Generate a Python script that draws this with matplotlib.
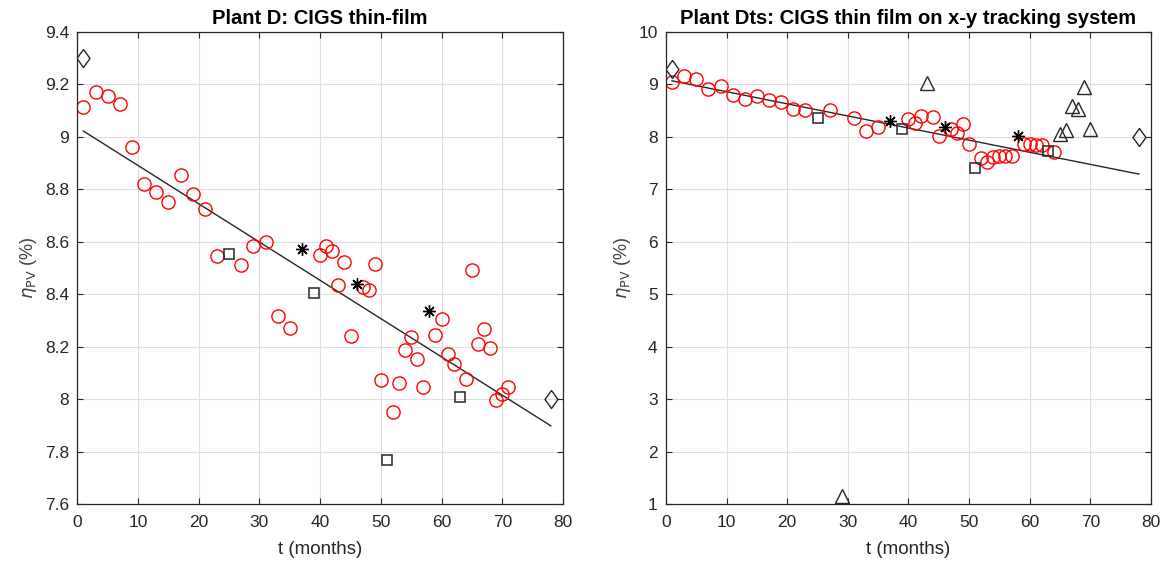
#!/usr/bin/env python3
"""
Degradation of PV efficiency over time: two CIGS plants
"""

import numpy as np
import matplotlib.pyplot as plt
from matplotlib.ticker import MultipleLocator

plt.rcParams['font.family'] = ['Liberation Sans', 'DejaVu Sans']
plt.rcParams['mathtext.fontset'] = 'dejavusans'

# --- Plant D: CIGS thin-film ---
d_circ_t = [1, 3, 5, 7, 9, 11, 13, 15, 17, 19, 21, 23, 27, 29, 31, 33, 35,
            40, 41, 42, 43, 44, 45, 47, 48, 49, 50, 52, 53, 54, 55, 56, 57,
            59, 60, 61, 62, 64, 65, 66, 67, 68, 69, 70, 71]
d_circ_eta = [9.115, 9.17, 9.155, 9.125, 8.96, 8.822, 8.789, 8.75, 8.856, 8.784,
              8.724, 8.547, 8.511, 8.584, 8.60, 8.317, 8.271,
              8.551, 8.583, 8.565, 8.434, 8.523, 8.239, 8.427, 8.416, 8.517,
              8.074, 7.95, 8.061, 8.189, 8.237, 8.153, 8.047,
              8.243, 8.305, 8.173, 8.135, 8.075, 8.491, 8.211, 8.269, 8.195,
              7.995, 8.021, 8.046]
d_star_t = [37, 46, 58]
d_star_eta = [8.573, 8.44, 8.336]
d_sq_t = [25, 39, 51, 63]
d_sq_eta = [8.552, 8.405, 7.769, 8.009]
d_dia_t = [1, 78]
d_dia_eta = [9.30, 8.0]
d_fit = [-0.0146, 9.037]   # slope, intercept

# --- Plant Dts: CIGS thin film on x-y tracking system ---
dts_circ_t = [1, 3, 5, 7, 9, 11, 13, 15, 17, 19, 21, 23, 27, 31, 33, 35,
              40, 41, 42, 44, 45, 47, 48, 49, 50, 52, 53, 54, 55, 56, 57,
              59, 60, 61, 62, 64]
dts_circ_eta = [9.04, 9.17, 9.10, 8.91, 8.98, 8.79, 8.72, 8.78, 8.70, 8.66,
                8.53, 8.51, 8.51, 8.36, 8.11, 8.18,
                8.35, 8.26, 8.40, 8.38, 8.02, 8.15, 8.08, 8.24, 7.86, 7.59,
                7.53, 7.62, 7.64, 7.64, 7.64,
                7.86, 7.86, 7.84, 7.85, 7.71]
dts_star_t = [37, 46, 58]
dts_star_eta = [8.30, 8.18, 8.02]
dts_sq_t = [25, 39, 51, 63]
dts_sq_eta = [8.37, 8.16, 7.41, 7.73]
dts_tri_t = [29, 43, 65, 66, 67, 68, 69, 70]
dts_tri_eta = [1.15, 9.02, 8.05, 8.14, 8.59, 8.53, 8.96, 8.16]
dts_dia_t = [1, 78]
dts_dia_eta = [9.29, 8.0]
dts_fit = [-0.0231, 9.093]

fit_range = [1, 78]

TXT = '#262626'
diamond = [(0, 1), (0.72, 0), (0, -1), (-0.72, 0), (0, 1)]


def style_axes(ax, ylim, ystep, title):
    ax.set_xlim(0, 80)
    ax.set_ylim(*ylim)
    ax.xaxis.set_major_locator(MultipleLocator(10))
    ax.yaxis.set_major_locator(MultipleLocator(ystep))
    ax.grid(True, color='#dedede', linewidth=0.8)
    ax.set_axisbelow(True)
    ax.tick_params(direction='in', top=True, right=True, length=4,
                   width=0.8, colors=TXT, labelsize=12.5)
    ax.tick_params(axis='x', pad=8)
    ax.tick_params(axis='y', pad=6)
    for s in ax.spines.values():
        s.set_color('#262626')
        s.set_linewidth(0.9)
    ax.set_xlabel('t (months)', fontsize=13.5, color=TXT, labelpad=8)
    ax.set_ylabel(r'$\eta_{\rm PV}$ (%)', fontsize=13, color='#404040', labelpad=4)
    ax.set_title(title, fontsize=14.5, fontweight='bold', color='black', pad=6)


def plot_plant(ax, circ, star, sq, dia, fit, tri=None):
    t = np.array(fit_range)
    ax.plot(t, fit[0] * t + fit[1], color='#262626', linewidth=1.0)
    ax.plot(circ[0], circ[1], 'o', ms=9.5, mfc='none', mec='#ff0000', mew=1.0,
            linestyle='none')
    ax.plot(star[0], star[1], marker=(8, 2, 0), ms=9, mec='black', mew=1.0,
            linestyle='none')
    ax.plot(sq[0], sq[1], 's', ms=7, mfc='none', mec='#262626', mew=1.1,
            linestyle='none')
    ax.plot(dia[0], dia[1], marker=diamond, ms=13, mfc='none', mec='#262626',
            mew=1.0, linestyle='none')
    if tri is not None:
        ax.plot(tri[0], tri[1], '^', ms=10.5, mfc='none', mec='#262626', mew=1.0,
                linestyle='none')


fig = plt.figure(figsize=(11.68, 5.69), dpi=100)
ax1 = fig.add_axes([0.0662, 0.1142, 0.4158, 0.8295])
ax2 = fig.add_axes([0.5702, 0.1142, 0.4152, 0.8295])

plot_plant(ax1, (d_circ_t, d_circ_eta), (d_star_t, d_star_eta),
           (d_sq_t, d_sq_eta), (d_dia_t, d_dia_eta), d_fit)
style_axes(ax1, (7.6, 9.4), 0.2, 'Plant D: CIGS thin-film')
ax1.yaxis.set_major_formatter(plt.FuncFormatter(lambda v, p: f'{v:g}'))

plot_plant(ax2, (dts_circ_t, dts_circ_eta), (dts_star_t, dts_star_eta),
           (dts_sq_t, dts_sq_eta), (dts_dia_t, dts_dia_eta), dts_fit,
           tri=(dts_tri_t, dts_tri_eta))
style_axes(ax2, (1, 10), 1, 'Plant Dts: CIGS thin film on x-y tracking system')

fig.savefig('out.png', dpi=100)
